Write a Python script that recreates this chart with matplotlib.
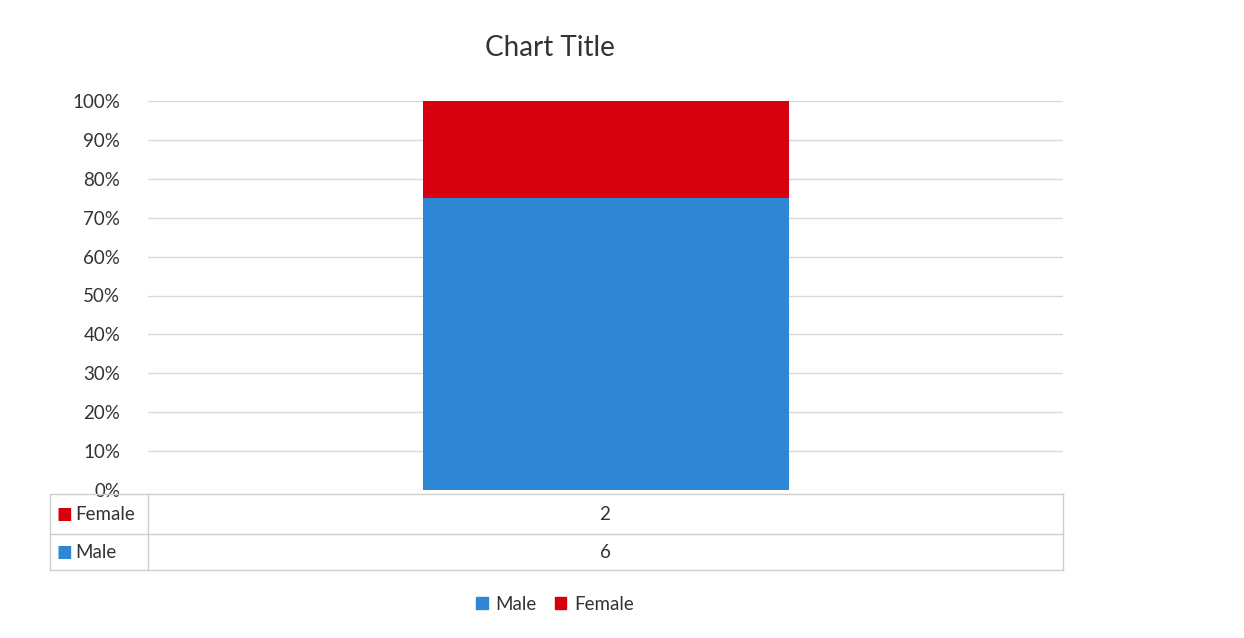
import numpy as np
import matplotlib

matplotlib.use("Agg")
import matplotlib.pyplot as plt
from matplotlib.lines import Line2D

plt.rcParams["font.family"] = ["Lato", "DejaVu Sans"]

categories = [""]
series_names = ["Male", "Female"]
male_values = [6]
female_values = [2]
series_colors = {"Male": "#2E86D4", "Female": "#D7000F"}
table_rows = ["Female", "Male"]
y_ticks = [0, 10, 20, 30, 40, 50, 60, 70, 80, 90, 100]

W, H = 1244, 638
fig = plt.figure(figsize=(W / 100, H / 100), dpi=100)
fig.patch.set_facecolor("white")
text_color = "#333333"


def fx(px):
    return px / W


def fy(py):
    return 1 - py / H


ax = fig.add_axes([fx(148), fy(490), fx(1063) - fx(148), fy(101) - fy(490)])

male = np.array(male_values, dtype=float)
female = np.array(female_values, dtype=float)
total = male + female
male_pct = male / total * 100
female_pct = female / total * 100

x = np.arange(len(categories))
ax.bar(x, male_pct, width=0.4, color=series_colors["Male"], zorder=3)
ax.bar(x, female_pct, width=0.4, bottom=male_pct, color=series_colors["Female"], zorder=3)

ax.set_xlim(-0.5, len(categories) - 0.5)
ax.set_ylim(0, 100)
ax.set_yticks(y_ticks)
ax.set_yticklabels([f"{t}%" for t in y_ticks], fontsize=13.5, color=text_color)
ax.set_xticks([])
ax.tick_params(axis="y", length=0, pad=20)
ax.grid(axis="y", color="#d9d9d9", linewidth=1, zorder=0)
for s in ax.spines.values():
    s.set_visible(False)

fig.text(fx(550), fy(48), "Chart Title", ha="center", va="center",
         fontsize=20, color=text_color)

# data table below the plot
line_kw = dict(color="#cfcfcf", linewidth=1)
row_edges = [494, 534, 570]
for yy in row_edges:
    fig.add_artist(Line2D([fx(50), fx(1063)], [fy(yy), fy(yy)], **line_kw))
for xx in [50, 148, 1063]:
    fig.add_artist(Line2D([fx(xx), fx(xx)], [fy(row_edges[0]), fy(row_edges[-1])], **line_kw))

row_values = {"Male": male_values, "Female": female_values}
for i, name in enumerate(table_rows):
    yc = (row_edges[i] + row_edges[i + 1]) / 2
    fig.text(fx(56), fy(yc), "\u25a0", ha="left", va="center", fontsize=12,
             color=series_colors[name], family="DejaVu Sans")
    fig.text(fx(75), fy(yc), name, ha="left", va="center", fontsize=13.5, color=text_color)
    for j in range(len(categories)):
        fig.text(fx(605), fy(yc), str(row_values[name][j]), ha="center", va="center",
                 fontsize=13.5, color=text_color)

# legend
handles = [plt.Rectangle((0, 0), 1, 1, color=series_colors[n]) for n in series_names]
fig.legend(handles, series_names, loc="center", bbox_to_anchor=(fx(555), fy(604)),
           ncol=2, frameon=False, fontsize=13.5, handlelength=0.6, handleheight=0.6,
           handletextpad=0.4, columnspacing=1.0, labelcolor=text_color)

fig.savefig("out.png", dpi=100)
